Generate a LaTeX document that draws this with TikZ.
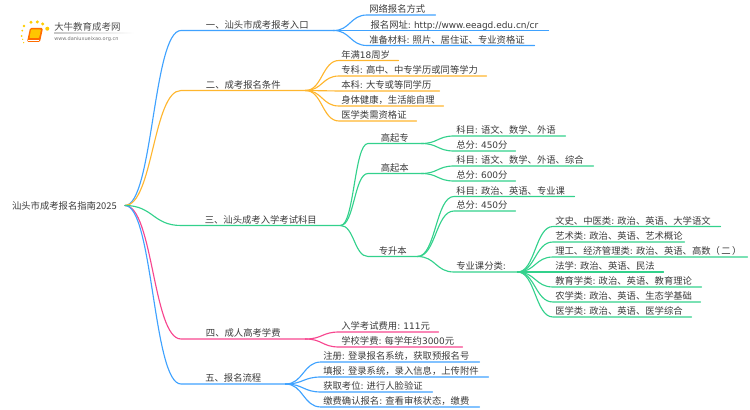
\documentclass[tikz,border=0pt]{standalone}
\usepackage{fontspec}
\setmainfont{Noto Sans CJK SC}
\newfontfamily\lat[Scale=0.96]{DejaVu Sans}
\newcommand{\en}[1]{{\lat #1}}
\usetikzlibrary{calc}
\definecolor{bluel}{HTML}{3FA2FF}
\definecolor{orangel}{HTML}{FFB62E}
\definecolor{greenl}{HTML}{33D18C}
\definecolor{pinkl}{HTML}{F7468F}
\definecolor{textc}{HTML}{3A3A3A}
\tikzset{
  leaf/.style   = { anchor=south west, inner xsep=1.5pt, inner ysep=0.6pt, text height=7pt, text depth=0.8pt,
                    text width={#1*0.75pt-3pt}, align=left, font=\fontsize{7}{8}\selectfont, text=textc },
  topic/.style  = { leaf=#1, align=center },
  root/.style   = { anchor=east, inner xsep=6pt, inner ysep=0pt, font=\fontsize{7}{8}\selectfont, text=textc },
  branch/.style = { line width=0.85pt, line cap=round,
                    to path={.. controls ($(\tikztostart)!.5!(\tikztostart-|\tikztotarget)$)
                             and ($(\tikztotarget)!.5!(\tikztotarget-|\tikztostart)$) .. (\tikztotarget)} },
  dot/.style    = { fill=orange!40!yellow, draw=none }
}
\begin{document}
\begin{tikzpicture}[x=0.75pt,y=-0.75pt]
  \useasboundingbox (0,0) rectangle (750,410);
  % Draw logo
  \foreach \px/\py/\pr in {24/26/1.4,31/22.3/1.7,37.3/22/1.7,42.7/24/1.7,47.3/28.7/2,22.3/30.7/1,21.7/36/1,22.7/39.3/.7,23.7/42.7/.7}
    \fill[dot] (\px,\py) circle (\pr);
  \fill[orange!85!red,rounded corners=1pt] (30,28) -- (43,28) -- (40,42) -- (27,42) -- cycle;
  \fill[orange!45!yellow,rounded corners=.5pt] (31,29.5) -- (41,29.5) -- (39,38) -- (29.5,38) -- cycle;
  \draw[white,line width=.4pt] (28,40) -- (39,40);
  \shade[left color=gray!45,right color=white,draw=none] (54,33) rectangle (134,33.7);
  \node[anchor=west,inner sep=0pt,font=\fontsize{7.1}{8}\selectfont,text=black!70] (logotitle) at (54,27) {大牛教育成考网};
  \node[anchor=west,inner sep=0pt,font=\lat\fontsize{3.9}{5}\selectfont,text=black!55] (logourl) at (54,39) {www.daniuxueixao.org.cn};
  % Draw root
  \node[root] (root) at (125,205.5) {汕头市成考报名指南2025};
  % Draw first level
  \node[topic=152] (t1) at (181,30.5) {一、汕头市成考报考入口};
  \node[topic=124] (t2) at (181,90.5) {二、成考报名条件};
  \node[topic=159] (t3) at (181,225.5) {三、汕头成考入学考试科目};
  \node[topic=124] (t4) at (181,339) {四、成人高考学费};
  \node[topic=104] (t5) at (181,384) {五、报名流程};
  \draw[branch,bluel]   (root.east) to (t1.south west) -- (t1.south east);
  \draw[branch,orangel] (root.east) to (t2.south west) -- (t2.south east);
  \draw[branch,pinkl]   (root.east) to (t4.south west) -- (t4.south east);
  \draw[branch,bluel]   (root.east) to (t5.south west) -- (t5.south east);
  \draw[branch,greenl]  (root.east) to (t3.south west) -- (t3.south east);
  % Draw t1 leaves
  \node[leaf=68] (a1) at (367,15) {网络报名方式};
  \node[leaf=181] (a2) at (367,30.5) {\hspace{1pt}报名网址\en{:~http://www.eeagd.edu.cn/cr}};
  \node[leaf=167] (a3) at (367,45.5) {准备材料\en{:~}照片、居住证、专业资格证};
  \foreach \n in {a1,a2,a3}
    \draw[branch,bluel] (t1.south east) to (\n.south west) -- (\n.south east);
  % Draw t2 leaves
  \node[leaf=59] (b1) at (339,60.5) {年满\en{18}周岁};
  \node[leaf=147] (b2) at (339,76) {专科\en{:~}高中、中专学历或同等学力};
  \node[leaf=100] (b3) at (339,91) {本科\en{:~}大专或等同学历};
  \node[leaf=104] (b4) at (339,106) {身体健康，生活能自理};
  \node[leaf=77] (b5) at (339,121) {医学类需资格证};
  \foreach \n in {b1,b2,b3,b4,b5}
    \draw[branch,orangel] (t2.south east) to (\n.south west) -- (\n.south east);
  % Draw t3 children
  \node[topic=53] (c1) at (368,143.5) {高起专};
  \node[topic=53] (c2) at (368,173.5) {高起本};
  \node[topic=49] (c3) at (368,256.5) {专升本};
  \foreach \n in {c1,c2,c3}
    \draw[branch,greenl] (t3.south east) to (\n.south west) -- (\n.south east);
  \node[leaf=111] (d1) at (454,136) {科目\en{:~}语文、数学、外语};
  \node[leaf=61] (d2) at (454,151) {总分\en{:~450}分};
  \foreach \n in {d1,d2}
    \draw[branch,greenl] (c1.south east) to (\n.south west) -- (\n.south east);
  \node[leaf=139] (e1) at (454,166) {科目\en{:~}语文、数学、外语、综合};
  \node[leaf=61] (e2) at (454,181) {总分\en{:~600}分};
  \foreach \n in {e1,e2}
    \draw[branch,greenl] (c2.south east) to (\n.south west) -- (\n.south east);
  \node[leaf=120] (f1) at (454,196.5) {科目\en{:~}政治、英语、专业课};
  \node[leaf=61] (f2) at (454,211) {总分\en{:~450}分};
  \node[leaf=63] (f3) at (454,272) {专业课分类\en{:}};
  \foreach \n in {f1,f2,f3}
    \draw[branch,greenl] (c3.south east) to (\n.south west) -- (\n.south east);
  % Draw subject classes
  \node[leaf=167] (g1) at (553,226.5) {文史、中医类\en{:~}政治、英语、大学语文};
  \node[leaf=131] (g2) at (553,242) {艺术类\en{:~}政治、英语、艺术概论};
  \node[leaf=194] (g3) at (553,257) {理工、经济管理类\en{:~}政治、英语、高数（\hspace{1pt}二\hspace{1pt}）};
  \node[leaf=110] (g4) at (553,272) {法学\en{:~}政治、英语、民法};
  \node[leaf=148] (g5) at (553,287) {教育学类\en{:~}政治、英语、教育理论};
  \node[leaf=147] (g6) at (553,302) {农学类\en{:~}政治、英语、生态学基础};
  \node[leaf=138] (g7) at (553,317) {医学类\en{:~}政治、英语、医学综合};
  \foreach \n in {g1,g2,g3,g4,g5,g6,g7}
    \draw[branch,greenl] (f3.south east) to (\n.south west) -- (\n.south east);
  % Draw t4 leaves
  \node[leaf=99] (h1) at (339,332) {入学考试费用\en{:~111}元};
  \node[leaf=123] (h2) at (339,347) {学校学费\en{:~}每学年约\en{3000}元};
  \foreach \n in {h1,h2}
    \draw[branch,pinkl] (t4.south east) to (\n.south west) -- (\n.south east);
  % Draw t5 leaves
  \node[leaf=158] (i1) at (321,362) {注册\en{:~}登录报名系统，获取预报名号};
  \node[leaf=167] (i2) at (321,377) {填报\en{:~}登录系统，录入信息，上传附件};
  \node[leaf=111] (i3) at (321,392) {获取考位\en{:~}进行人脸验证};
  \node[leaf=158] (i4) at (321,407) {缴费确认报名\en{:~}查看审核状态，缴费};
  \foreach \n in {i1,i2,i3,i4}
    \draw[branch,bluel] (t5.south east) to (\n.south west) -- (\n.south east);
\end{tikzpicture}
\end{document}
